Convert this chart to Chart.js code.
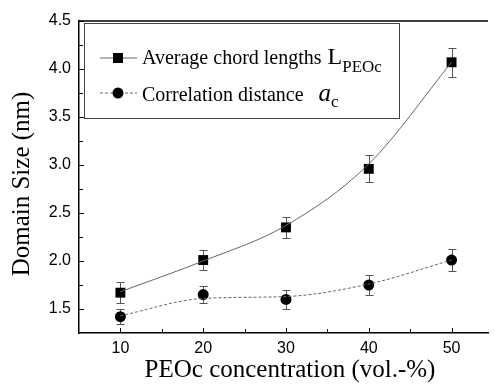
<!DOCTYPE html>
<html><head><meta charset="utf-8">
<script src="https://cdn.jsdelivr.net/npm/chart.js@4.4.1/dist/chart.umd.min.js"></script>
<style>html,body{margin:0;padding:0;background:#fff;overflow:hidden}#wrap{width:495px;height:384px;position:relative}</style>
</head><body><div id="wrap"><canvas id="c" width="495" height="384"></canvas></div>
<script>
// ---- data ----
const concentrations = [10, 20, 30, 40, 50];
const chordLength    = [1.67, 2.01, 2.35, 2.96, 4.07];
const chordLengthErr = [0.11, 0.10, 0.11, 0.14, 0.15];
const chordFit       = [1.68, 2.00, 2.37, 3.01, 4.07];
const corrDistance    = [1.42, 1.65, 1.60, 1.75, 2.01];
const corrDistanceErr = [0.08, 0.09, 0.10, 0.10, 0.11];
const corrFit         = [1.43, 1.61, 1.63, 1.76, 2.01];
const xTicks = [10, 20, 30, 40, 50];
const yTicks = [1.5, 2.0, 2.5, 3.0, 3.5, 4.0, 4.5];
const xTitle = 'PEOc concentration (vol.-%)';
const yTitle = 'Domain Size (nm)';
const legendChord = ['Average chord lengths ', 'L', 'PEOc'];
const legendCorr  = ['Correlation distance   ', 'a', 'c'];

const SERIF = '"Liberation Serif", "Times New Roman", serif';
const SANS = '"Liberation Sans", Arial, sans-serif';

const pts = (xs, ys) => xs.map((x, i) => ({x: x, y: ys[i]}));

const decor = {
  id: 'decor',
  beforeDatasetsDraw(chart) {
    const ctx = chart.ctx, xs = chart.scales.x, ys = chart.scales.y;
    ctx.save();
    ctx.strokeStyle = '#555';
    ctx.lineWidth = 1;
    [[chordLength, chordLengthErr], [corrDistance, corrDistanceErr]].forEach(([vals, errs]) => {
      vals.forEach((v, i) => {
        const x = Math.round(xs.getPixelForValue(concentrations[i])) + 0.5;
        const yt = Math.round(ys.getPixelForValue(v + errs[i])) + 0.5;
        const yb = Math.round(ys.getPixelForValue(v - errs[i])) + 0.5;
        ctx.beginPath();
        ctx.moveTo(x, yt); ctx.lineTo(x, yb);
        ctx.moveTo(x - 4, yt); ctx.lineTo(x + 4, yt);
        ctx.moveTo(x - 4, yb); ctx.lineTo(x + 4, yb);
        ctx.stroke();
      });
    });
    ctx.restore();
  },
  afterDraw(chart) {
    const ctx = chart.ctx, xs = chart.scales.x, ys = chart.scales.y;
    const a = chart.chartArea;
    ctx.save();
    // top frame line
    ctx.strokeStyle = '#000';
    ctx.lineWidth = 1.5;
    ctx.beginPath();
    ctx.moveTo(a.left, a.top); ctx.lineTo(a.right, a.top);
    ctx.stroke();
    // inward tick marks
    ctx.lineWidth = 1;
    ctx.beginPath();
    const yMinor = yTicks.map(v => v - 0.25).concat([yTicks[yTicks.length - 1] - 0.25]);
    yTicks.forEach(v => { const y = Math.round(ys.getPixelForValue(v)) + 0.5; ctx.moveTo(a.left, y); ctx.lineTo(a.left + 5, y); });
    yMinor.forEach(v => { if (v <= ys.min) return; const y = Math.round(ys.getPixelForValue(v)) + 0.5; ctx.moveTo(a.left, y); ctx.lineTo(a.left + 4, y); });
    const xMinor = xTicks.map(v => v + 5);
    xTicks.forEach(v => { const x = Math.round(xs.getPixelForValue(v)) + 0.5; ctx.moveTo(x, a.bottom); ctx.lineTo(x, a.bottom - 5); });
    xMinor.forEach(v => { if (v >= xs.max) return; const x = Math.round(xs.getPixelForValue(v)) + 0.5; ctx.moveTo(x, a.bottom); ctx.lineTo(x, a.bottom - 4); });
    ctx.stroke();

    // axis titles
    ctx.fillStyle = '#000';
    ctx.font = '25px ' + SERIF;
    ctx.textAlign = 'center';
    ctx.textBaseline = 'middle';
    ctx.fillText(xTitle, 290, 370);
    ctx.save();
    ctx.translate(22.5, 184);
    ctx.rotate(-Math.PI / 2);
    ctx.fillText(yTitle, 0, 0);
    ctx.restore();

    // legend box
    ctx.fillStyle = '#fff';
    ctx.fillRect(84, 23, 315, 95);
    ctx.strokeStyle = '#444';
    ctx.lineWidth = 1;
    ctx.strokeRect(84.5, 23.5, 315, 95);
    // entry 1
    ctx.strokeStyle = '#666';
    ctx.beginPath(); ctx.moveTo(100, 58); ctx.lineTo(137, 58); ctx.stroke();
    ctx.fillStyle = '#000';
    ctx.fillRect(113, 53, 10, 10);
    // entry 2
    ctx.setLineDash([3, 2]);
    ctx.beginPath(); ctx.moveTo(100, 93); ctx.lineTo(137, 93); ctx.stroke();
    ctx.setLineDash([]);
    ctx.beginPath(); ctx.arc(118, 93, 5.5, 0, Math.PI * 2); ctx.fill();
    // texts
    ctx.textAlign = 'left';
    ctx.textBaseline = 'alphabetic';
    let x = 142;
    ctx.font = '20px ' + SERIF;
    ctx.fillText(legendChord[0], x, 64);
    x += ctx.measureText(legendChord[0]).width + 1;
    ctx.font = '24px ' + SERIF;
    ctx.fillText(legendChord[1], x, 64);
    x += ctx.measureText(legendChord[1]).width;
    ctx.font = '17px ' + SERIF;
    ctx.fillText(legendChord[2], x, 72);

    x = 142;
    ctx.font = '20px ' + SERIF;
    ctx.fillText(legendCorr[0], x, 101);
    x += ctx.measureText(legendCorr[0]).width;
    ctx.font = 'italic 25px ' + SERIF;
    ctx.fillText(legendCorr[1], x, 101);
    x += ctx.measureText(legendCorr[1]).width;
    ctx.font = '17px ' + SERIF;
    ctx.fillText(legendCorr[2], x, 107);
    ctx.restore();
  }
};

new Chart(document.getElementById('c'), {
  type: 'scatter',
  data: {
    datasets: [
      { label: 'Average chord lengths fit', data: pts(concentrations, chordFit), showLine: true,
        cubicInterpolationMode: 'monotone', borderColor: '#666', borderWidth: 1, pointRadius: 0, fill: false },
      { label: 'Correlation distance fit', data: pts(concentrations, corrFit), showLine: true,
        cubicInterpolationMode: 'monotone', borderColor: '#666', borderWidth: 1, borderDash: [3, 2], pointRadius: 0, fill: false },
      { label: 'Average chord lengths L_PEOc', data: pts(concentrations, chordLength), showLine: false,
        pointStyle: 'rect', pointRadius: 7, backgroundColor: '#000', borderColor: '#000', borderWidth: 0 },
      { label: 'Correlation distance a_c', data: pts(concentrations, corrDistance), showLine: false,
        pointStyle: 'circle', pointRadius: 5.5, backgroundColor: '#000', borderColor: '#000', borderWidth: 0 }
    ]
  },
  options: {
    responsive: false,
    animation: false,
    layout: { padding: { top: 21, right: 0, bottom: 0, left: 0 } },
    plugins: { legend: { display: false }, tooltip: { enabled: false } },
    scales: {
      x: {
        type: 'linear', position: 'bottom', min: 5, max: 54.4,
        afterBuildTicks: s => { s.ticks = xTicks.map(v => ({ value: v })); },
        afterFit: s => { s.height = 51; },
        ticks: { color: '#000', font: { family: SANS, size: 16 }, padding: 6, maxRotation: 0, callback: v => String(v) },
        grid: { display: false, drawTicks: false },
        border: { display: true, color: '#000', width: 1.5 }
      },
      y: {
        type: 'linear', position: 'left', min: 1.25, max: 4.5,
        afterBuildTicks: s => { s.ticks = yTicks.map(v => ({ value: v })); },
        afterFit: s => { s.width = 79; },
        ticks: { color: '#000', font: { family: SANS, size: 16 }, padding: 8, callback: v => Number(v).toFixed(1) },
        grid: { display: false, drawTicks: false },
        border: { display: true, color: '#000', width: 1.5 }
      }
    }
  },
  plugins: [decor]
});
</script></body></html>
